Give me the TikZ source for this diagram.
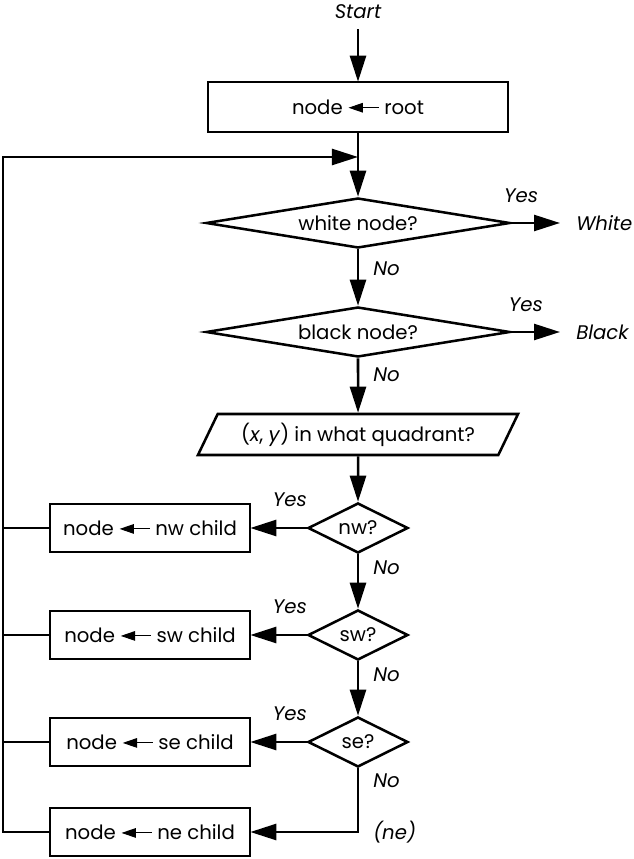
\documentclass[tikz,border=0pt]{standalone}
\usepackage{fontspec}
\setmainfont{Poppins}
\usetikzlibrary{arrows.meta}
\usetikzlibrary{shapes.geometric}

\newcommand{\getsarrow}{\tikz[baseline=-0.6ex]\draw[line width=0.7pt, -{Triangle[length=0.36cm, width=0.24cm]}] (0.75cm, 0) -- (0, 0);}

\begin{document}
\begin{tikzpicture}[
        x=0.025cm, y=-0.025cm,
        >={Triangle[length=0.65cm, width=0.4cm]},
        line width=1.8pt,
        font=\fontsize{14}{16}\selectfont,
        box/.style={draw, rectangle, inner sep=0pt, minimum height=1.2cm},
        big test/.style={draw, diamond, aspect=6, inner sep=0pt, minimum width=7.6cm, minimum height=1.25cm},
        small test/.style={draw, diamond, aspect=2, inner sep=0pt, minimum width=2.5cm, minimum height=1.25cm},
        io/.style={draw, trapezium, trapezium left angle=50, trapezium right angle=130,
                   trapezium stretches body=true, inner sep=0pt, minimum width=8cm, minimum height=1.025cm},
        lbl/.style={font=\fontsize{14}{16}\selectfont\itshape, inner sep=0pt},
    ]

    \useasboundingbox (0, 0) rectangle (633, 859);

    \node[lbl, inner ysep=0.22cm] (start) at (358, 12) {Start};
    \node[box, minimum width=7.5cm, minimum height=1.25cm] (root) at (358, 107) {node \getsarrow{} root};
    \node[big test] (white) at (358, 223) {white node?};
    \node[big test] (black) at (358, 332) {black node?};
    \node[io] (quad) at (358, 434.5) {(\textit{x}, \textit{y}) in what quadrant?};

    \node[lbl, anchor=west, inner xsep=0.375cm] (whiteres) at (560, 223) {White};
    \node[lbl, anchor=west, inner xsep=0.375cm] (blackres) at (560, 332) {Black};

    \coordinate (back) at (3, 157);
    \coordinate (join) at (358, 157);

    \foreach \q/\y in {nw/528, sw/635, se/742}
    {
        \node[small test] (\q) at (358, \y) {\q?};
        \node[box, minimum width=5cm] (\q child) at (150, \y) {node \getsarrow{} \q{} child};
        \draw[->] (\q.west) -- node[lbl, above=0.5cm, pos=0.3] {Yes} (\q child.east);
        \draw (\q child.west) -- (\q child.west -| back);
    }
    \node[box, minimum width=5cm] (ne child) at (150, 832) {node \getsarrow{} ne child};
    \coordinate (bend) at (358, 832);

    \draw[->] (start) -- (root);
    \draw[->] (root) -- (white);
    \draw[->] (white.east) -- node[lbl, above=0.475cm, pos=0.2] {Yes} (whiteres.west);
    \draw[->] (white) -- node[lbl, right=0.35cm, pos=0.35] {No} (black);
    \draw[->] (black.east) -- node[lbl, above=0.475cm, pos=0.3] {Yes} (blackres.west);
    \draw[->] (black) -- node[lbl, right=0.35cm, pos=0.3] {No} (quad);
    \draw[->] (quad) -- (nw);
    \draw[->] (nw) -- node[lbl, right=0.35cm, pos=0.25] {No} (sw);
    \draw[->] (sw) -- node[lbl, right=0.35cm, pos=0.25] {No} (se);
    \draw[->] (se) -- node[lbl, right=0.35cm, pos=0.2] {No} (bend)
        node[lbl, right=0.35cm] {(ne)} -- (ne child);
    \draw[->] (ne child.west) -| (back) -- (join);

    \end{tikzpicture}
\end{document}
